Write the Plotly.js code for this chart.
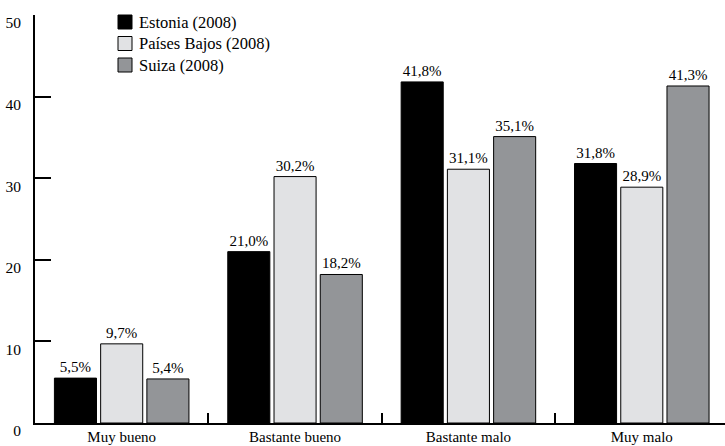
<!DOCTYPE html>
<html>
<head>
<meta charset="utf-8">
<script src="https://cdn.plot.ly/plotly-3.0.1.min.js"></script>
<style>
  html, body { margin: 0; padding: 0; background: #fff; }
  #chart { width: 725px; height: 446px; }
</style>
</head>
<body>
<div id="chart"></div>
<script>
// Self-rated health, share of respondents per answer (%)
const categories = ["Muy bueno", "Bastante bueno", "Bastante malo", "Muy malo"];
const seriesNames = ["Estonia (2008)", "Países Bajos (2008)", "Suiza (2008)"];
const estonia = [5.5, 21.0, 41.8, 31.8];
const paisesBajos = [9.7, 30.2, 31.1, 28.9];
const suiza = [5.4, 18.2, 35.1, 41.3];
const seriesColors = ["#000000", "#e1e2e4", "#939598"];
const yTicks = [0, 10, 20, 30, 40, 50];

const FONT = "Liberation Serif";
const fmt = v => v.toFixed(1).replace(".", ",") + "%";

const seriesValues = [estonia, paisesBajos, suiza];
const traces = seriesValues.map((vals, i) => ({
  type: "bar",
  name: seriesNames[i],
  x: categories,
  y: vals,
  text: vals.map(fmt),
  textposition: "outside",
  cliponaxis: false,
  textfont: { family: FONT, size: 15, color: "#000" },
  marker: { color: seriesColors[i], line: { color: "#000", width: 1 } },
  hoverinfo: "skip",
  showlegend: false
}));

// Legend drawn as small boxes with labels in the upper left
const W = 725, H = 446, mL = 35, mR = 0, mT = 15, mB = 23;
const pw = W - mL - mR, ph = H - mT - mB;
const px = p => (p - mL) / pw;
const py = p => (H - mB - p) / ph;
const shapes = [], annotations = [];
seriesNames.forEach((name, i) => {
  const top = 15 + i * 21.5;
  shapes.push({
    type: "rect", xref: "paper", yref: "paper",
    x0: px(118), x1: px(132), y0: py(top + 14), y1: py(top),
    fillcolor: seriesColors[i], line: { color: "#000", width: 1 }
  });
  annotations.push({
    xref: "paper", yref: "paper", x: px(137), y: py(top + 7),
    xanchor: "left", yanchor: "middle", showarrow: false,
    text: name, font: { family: FONT, size: 16.5, color: "#000" }
  });
});

const layout = {
  width: W, height: H,
  margin: { l: mL, r: mR, t: mT, b: mB, pad: 0 },
  paper_bgcolor: "#fff", plot_bgcolor: "#fff",
  font: { family: FONT, size: 15, color: "#000" },
  barmode: "group",
  bargap: 0.2,
  bargroupgap: 0.09,
  xaxis: {
    type: "category",
    range: [-0.5, 3.48],
    showline: true, linecolor: "#000", linewidth: 2,
    ticks: "inside", tickson: "boundaries", ticklen: 10, tickwidth: 2, tickcolor: "#000",
    showgrid: false, zeroline: false,
    tickfont: { family: FONT, size: 15, color: "#000" },
    ticklabelstandoff: -1
  },
  yaxis: {
    range: [0, 50],
    tickvals: yTicks,
    showline: true, linecolor: "#000", linewidth: 2,
    ticks: "inside", ticklen: 16, tickwidth: 2, tickcolor: "#000",
    showgrid: false, zeroline: false,
    tickfont: { family: FONT, size: 15.5, color: "#000" },
    ticklabelshift: 8,
    ticklabelstandoff: 9
  },
  shapes: shapes,
  annotations: annotations
};

Plotly.newPlot("chart", traces, layout, { displayModeBar: false, staticPlot: true });
</script>
</body>
</html>
